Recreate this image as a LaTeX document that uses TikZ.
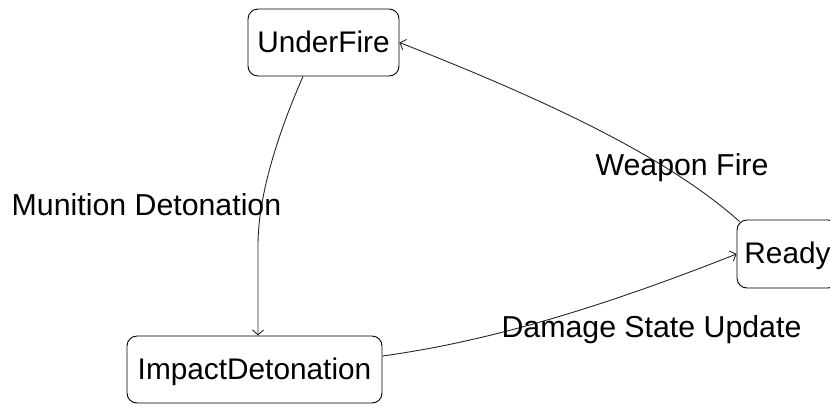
\documentclass[tikz,border=0pt]{standalone}
\usepackage{fontspec}
\setmainfont{Liberation Sans}
\usetikzlibrary{arrows.meta}
\begin{document}
\begin{tikzpicture}[x=1pt,y=-1pt,
  state/.style={draw=black, line width=0.9pt, rounded corners=10pt,
    font=\fontsize{29.8}{35}\selectfont, inner sep=0pt,
    text height=22pt, text depth=3pt},
  trans/.style={draw=black!85, line width=0.9pt,
    -{Straight Barb[length=5pt,width=11pt]}},
  lbl/.style={font=\fontsize{30.3}{36}\selectfont, anchor=base, inner sep=0pt}]
  \useasboundingbox (0,0) rectangle (830,405);
  \clip (0,0) rectangle (830,405);

  % states
  \node[state, minimum width=151pt, minimum height=67pt] (uf) at (323.5,42.5) {UnderFire};
  \node[state, minimum width=255pt, minimum height=67pt] (id) at (254.5,369.5) {ImpactDetonation};
  \node[state, minimum width=101pt, minimum height=68pt] (rd) at (787.5,254) {Ready};

  % transitions
  \draw[trans] ([xshift=-20.5pt]uf.south) .. controls (275,140) and (258,200) .. (258,245)
    -- ([xshift=3.5pt]id.north);
  \draw[trans] ([yshift=13.5pt]id.east) .. controls (500,340) and (620,300) .. (rd.west);
  \draw[trans] ([xshift=3pt,yshift=-2pt]rd.north west) .. controls (660,150) and (520,90) .. (uf.east);

  % transition labels
  \node[lbl] (l1) at (146.5,215) {Munition Detonation};
  \node[lbl] (l2) at (682,175) {Weapon Fire};
  \node[lbl] (l3) at (651.5,337) {Damage State Update};
\end{tikzpicture}
\end{document}
